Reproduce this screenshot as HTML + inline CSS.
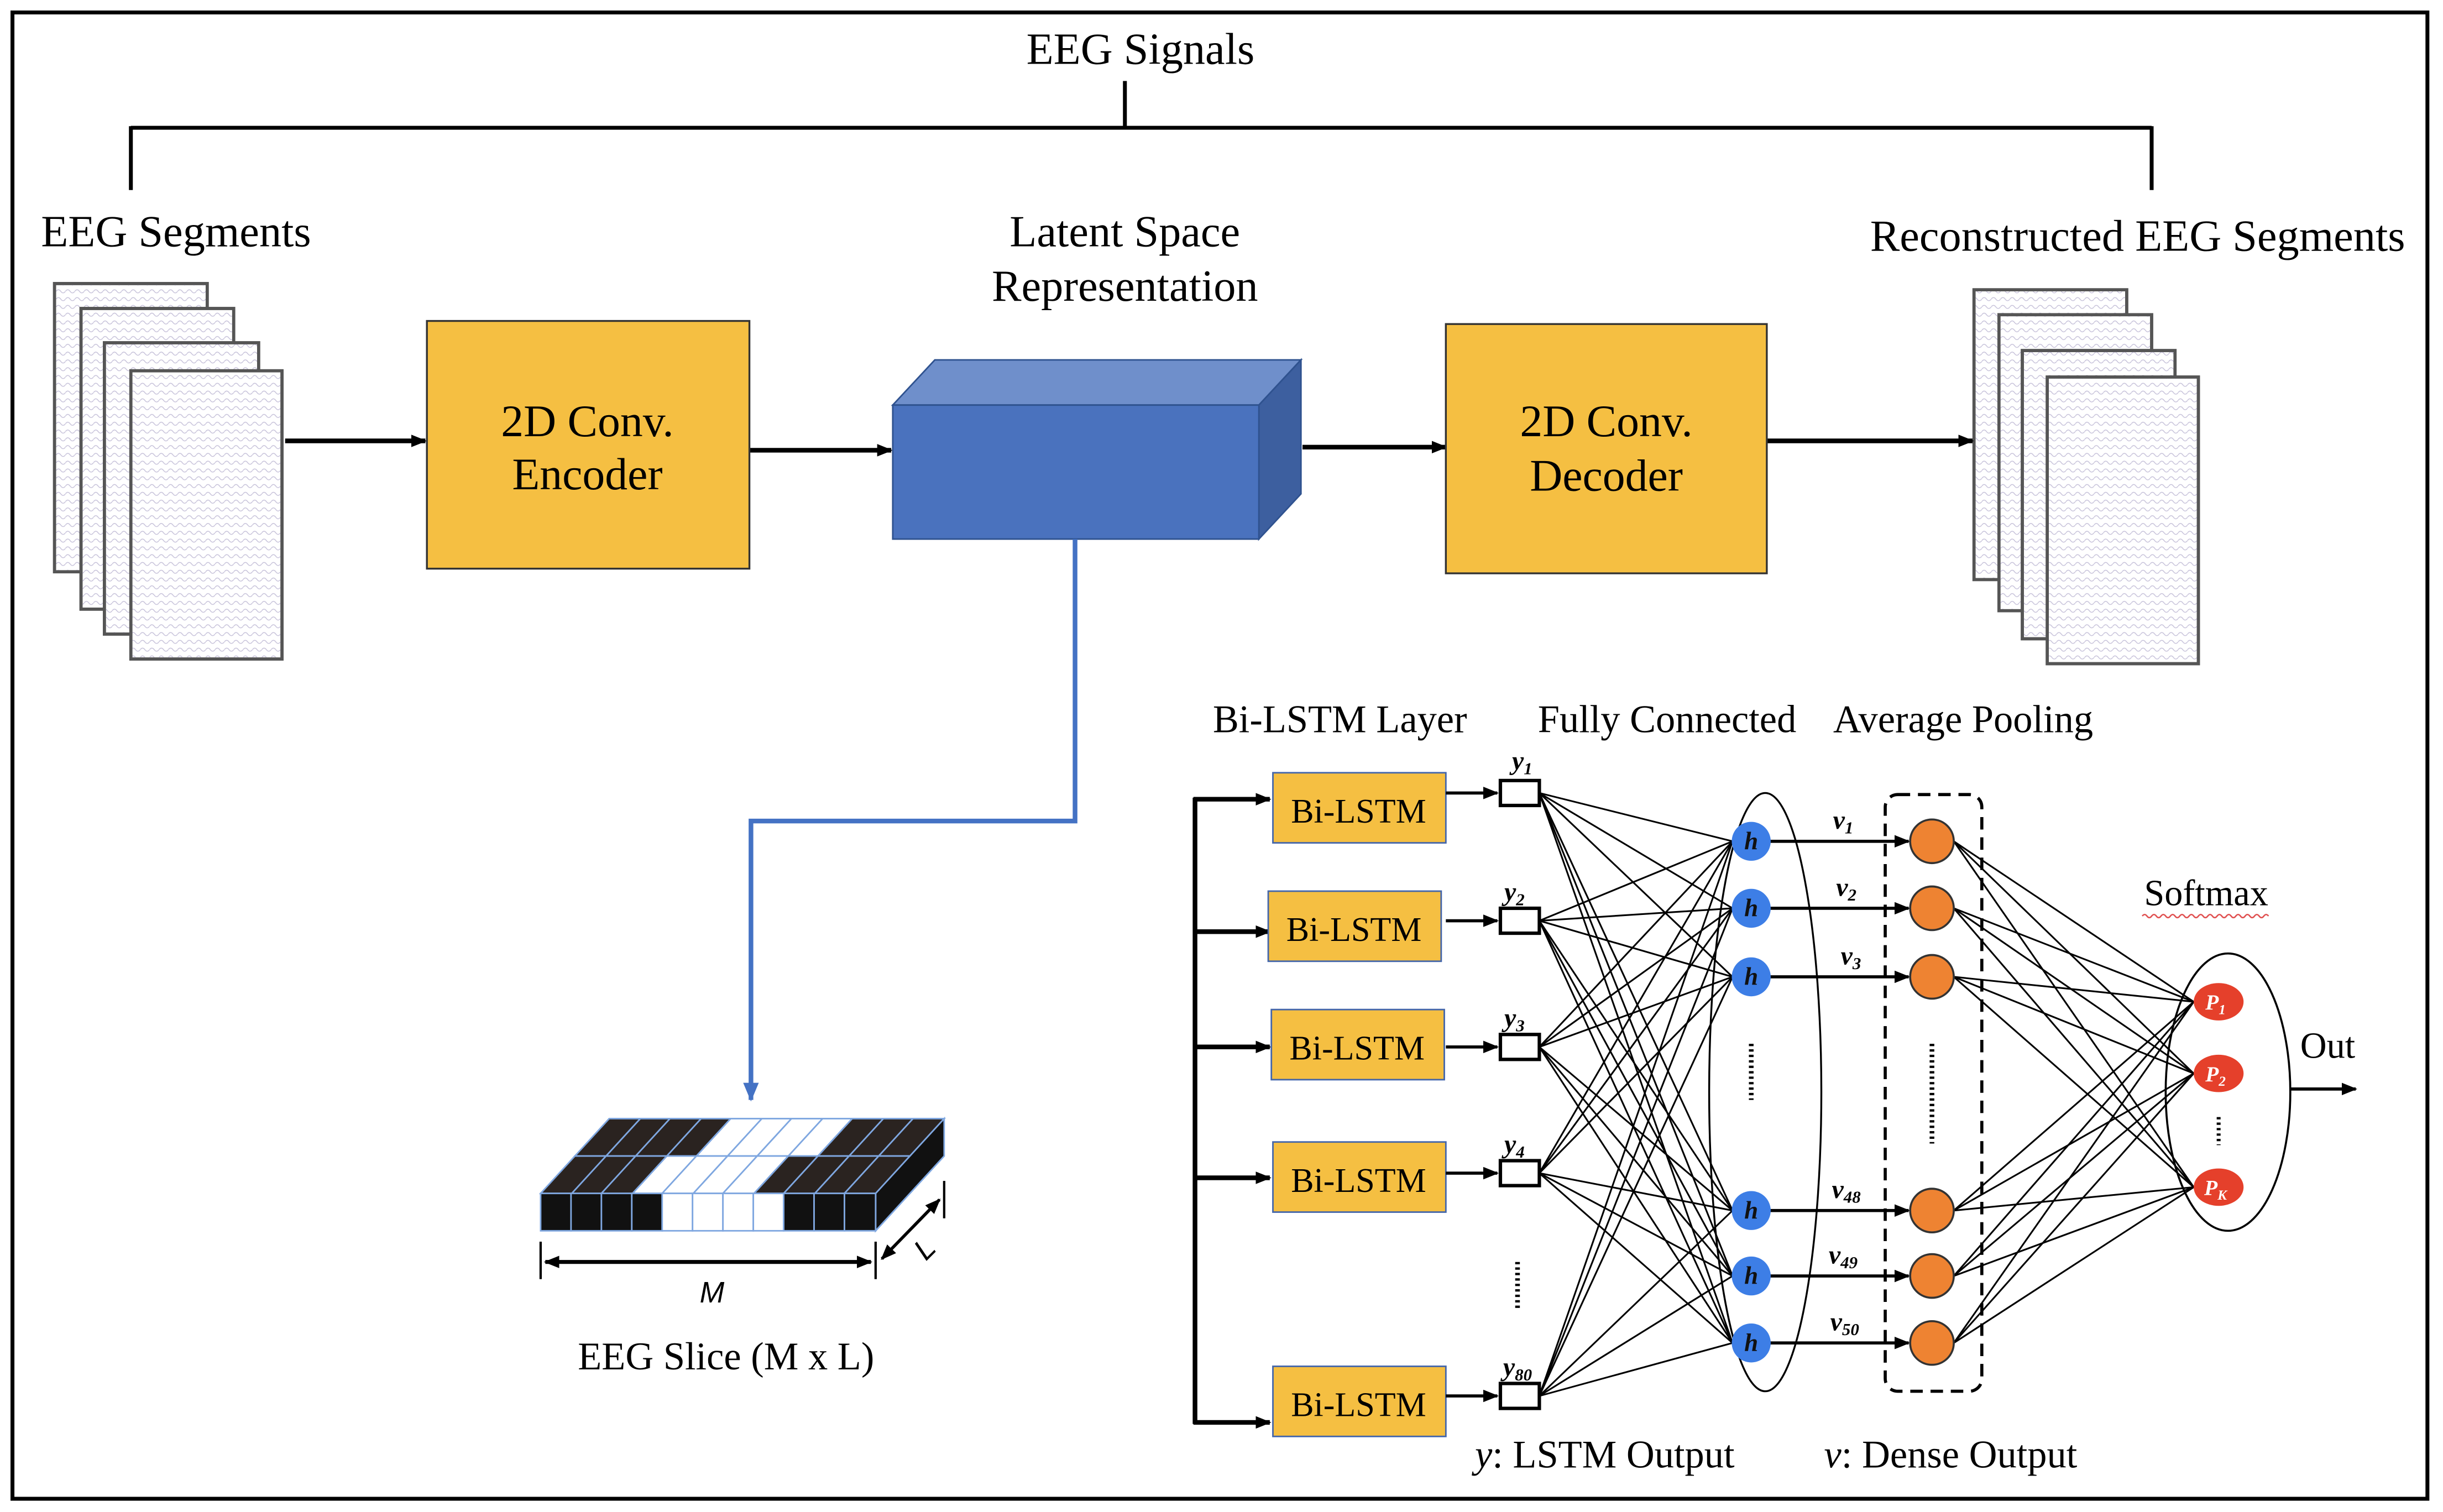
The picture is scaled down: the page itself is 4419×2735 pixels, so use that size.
<!DOCTYPE html>
<html><head><meta charset="utf-8"><style>
html,body{margin:0;padding:0;background:#fff}
svg{display:block}
text{font-family:"Liberation Serif",serif}
</style></head><body>
<svg width="4419" height="2735" viewBox="0 0 1568 970.5" preserveAspectRatio="none" xmlns="http://www.w3.org/2000/svg">
<defs>
<marker id="as" markerWidth="10" markerHeight="8" refX="9" refY="4" orient="auto" markerUnits="userSpaceOnUse"><path d="M0,0 L10,4 L0,8 z" fill="#000"/></marker>
<marker id="ab" markerWidth="12" markerHeight="10" refX="11" refY="5" orient="auto" markerUnits="userSpaceOnUse"><path d="M0,0 L12,5 L0,10 z" fill="#4472C4"/></marker>
<marker id="dm" markerWidth="10" markerHeight="10" refX="9" refY="5" orient="auto-start-reverse" markerUnits="userSpaceOnUse"><path d="M0,1 L10,5 L0,9 z" fill="#000"/></marker>
<pattern id="eeg" width="6" height="5" patternUnits="userSpaceOnUse"><path d="M0,2 Q1.5,0 3,2 T6,2" stroke="#c4bfd8" stroke-width="0.5" fill="none"/></pattern>
</defs>
<rect x="8" y="8" width="1550" height="954" fill="#fff" stroke="#000" stroke-width="2.5"/>

<text x="732" y="41" font-size="28.5" text-anchor="middle">EEG Signals</text>
<path d="M722,52 V82 M84,82 H1381 M84,81 V122 M1381,81 V122" stroke="#000" stroke-width="2.5" fill="none"/>
<text x="113" y="158" font-size="28.5" text-anchor="middle">EEG Segments</text>
<text x="722" y="158" font-size="28.5" text-anchor="middle">Latent Space</text>
<text x="722" y="193" font-size="28.5" text-anchor="middle">Representation</text>
<text x="1372" y="161" font-size="28.5" text-anchor="middle">Reconstructed EEG Segments</text>

<g stroke="#555" stroke-width="2">
<rect x="35" y="182" width="98" height="185" fill="#fff"/><rect x="35" y="182" width="98" height="185" fill="url(#eeg)"/>
<rect x="52" y="198" width="98" height="193" fill="#fff"/><rect x="52" y="198" width="98" height="193" fill="url(#eeg)"/>
<rect x="67" y="220" width="99" height="187" fill="#fff"/><rect x="67" y="220" width="99" height="187" fill="url(#eeg)"/>
<rect x="84" y="238" width="97" height="185" fill="#fff"/><rect x="84" y="238" width="97" height="185" fill="url(#eeg)"/>
</g>
<g stroke="#555" stroke-width="2">
<rect x="1267" y="186" width="98" height="186" fill="#fff"/><rect x="1267" y="186" width="98" height="186" fill="url(#eeg)"/>
<rect x="1283" y="202" width="98" height="190" fill="#fff"/><rect x="1283" y="202" width="98" height="190" fill="url(#eeg)"/>
<rect x="1298" y="225" width="98" height="185" fill="#fff"/><rect x="1298" y="225" width="98" height="185" fill="url(#eeg)"/>
<rect x="1314" y="242" width="97" height="184" fill="#fff"/><rect x="1314" y="242" width="97" height="184" fill="url(#eeg)"/>
</g>

<g stroke="#000" stroke-width="3" fill="none">
<line x1="183" y1="283" x2="273" y2="283" marker-end="url(#as)"/>
<line x1="481" y1="289" x2="572" y2="289" marker-end="url(#as)"/>
<line x1="836" y1="287" x2="928" y2="287" marker-end="url(#as)"/>
<line x1="1134" y1="283" x2="1266" y2="283" marker-end="url(#as)"/>
</g>
<rect x="274" y="206" width="207" height="159" fill="#F5BF42" stroke="#333" stroke-width="1.2"/>
<text x="377" y="280" font-size="29" text-anchor="middle">2D Conv.</text>
<text x="377" y="314" font-size="29" text-anchor="middle">Encoder</text>
<rect x="928" y="208" width="206" height="160" fill="#F5BF42" stroke="#333" stroke-width="1.2"/>
<text x="1031" y="280" font-size="29" text-anchor="middle">2D Conv.</text>
<text x="1031" y="315" font-size="29" text-anchor="middle">Decoder</text>

<g stroke="#2F528F" stroke-width="1">
<polygon points="573,260 600,231 835,231 808,260" fill="#6F8FCB"/>
<polygon points="808,260 835,231 835,317 808,346" fill="#3D5F9F"/>
<rect x="573" y="260" width="235" height="86" fill="#4A72BE"/>
</g>
<path d="M690,346 V527 H482 V706" stroke="#4472C4" stroke-width="3" fill="none" marker-end="url(#ab)"/>

<g stroke="#7FA7E0" stroke-width="1">
<polygon points="562,766 606,718 606,742 562,790" fill="#111"/>
<polygon points="369,742 391,718 411,718 389,742" fill="#2a2320"/>
<polygon points="389,742 411,718 430,718 408,742" fill="#2a2320"/>
<polygon points="408,742 430,718 450,718 428,742" fill="#2a2320"/>
<polygon points="428,742 450,718 469,718 447,742" fill="#2a2320"/>
<polygon points="447,742 469,718 489,718 467,742" fill="#fff"/>
<polygon points="467,742 489,718 508,718 486,742" fill="#fff"/>
<polygon points="486,742 508,718 528,718 506,742" fill="#fff"/>
<polygon points="506,742 528,718 547,718 525,742" fill="#fff"/>
<polygon points="525,742 547,718 567,718 545,742" fill="#2a2320"/>
<polygon points="545,742 567,718 586,718 564,742" fill="#2a2320"/>
<polygon points="564,742 586,718 606,718 584,742" fill="#2a2320"/>
<polygon points="347,766 369,742 389,742 367,766" fill="#2a2320"/>
<polygon points="367,766 389,742 408,742 386,766" fill="#2a2320"/>
<polygon points="386,766 408,742 428,742 406,766" fill="#2a2320"/>
<polygon points="406,766 428,742 447,742 425,766" fill="#fff"/>
<polygon points="425,766 447,742 467,742 445,766" fill="#fff"/>
<polygon points="445,766 467,742 486,742 464,766" fill="#fff"/>
<polygon points="464,766 486,742 506,742 484,766" fill="#fff"/>
<polygon points="484,766 506,742 525,742 503,766" fill="#2a2320"/>
<polygon points="503,766 525,742 545,742 523,766" fill="#2a2320"/>
<polygon points="523,766 545,742 564,742 542,766" fill="#2a2320"/>
<polygon points="542,766 564,742 584,742 562,766" fill="#2a2320"/>
<rect x="347" y="766" width="19.5" height="24" fill="#111"/>
<rect x="366.5" y="766" width="19.5" height="24" fill="#111"/>
<rect x="386" y="766" width="19.5" height="24" fill="#111"/>
<rect x="405.5" y="766" width="19.5" height="24" fill="#111"/>
<rect x="425" y="766" width="19.5" height="24" fill="#fff"/>
<rect x="444.5" y="766" width="19.5" height="24" fill="#fff"/>
<rect x="464" y="766" width="19.5" height="24" fill="#fff"/>
<rect x="483.5" y="766" width="19.5" height="24" fill="#fff"/>
<rect x="503" y="766" width="19.5" height="24" fill="#111"/>
<rect x="522.5" y="766" width="19.5" height="24" fill="#111"/>
<rect x="542" y="766" width="20" height="24" fill="#111"/>
</g>
<g stroke="#000" stroke-width="1.5">
<line x1="347" y1="797" x2="347" y2="821"/>
<line x1="562" y1="797" x2="562" y2="821"/>
<line x1="350" y1="810" x2="559" y2="810" stroke-width="2.5" marker-start="url(#dm)" marker-end="url(#dm)"/>
<line x1="606" y1="758" x2="606" y2="782"/>
<line x1="566" y1="808" x2="603" y2="770" stroke-width="2" marker-start="url(#dm)" marker-end="url(#dm)"/>
</g>
<text x="457" y="836" font-size="19" font-style="italic" text-anchor="middle" style="font-family:'Liberation Sans',sans-serif">M</text>
<text x="0" y="0" font-size="19" font-style="italic" text-anchor="middle" transform="translate(598,806) rotate(-45)" style="font-family:'Liberation Sans',sans-serif">L</text>
<text x="466" y="879" font-size="25" text-anchor="middle">EEG Slice (M x L)</text>

<text x="860" y="470" font-size="25" text-anchor="middle">Bi-LSTM Layer</text>
<text x="1070" y="470" font-size="25" text-anchor="middle">Fully Connected</text>
<text x="1260" y="470" font-size="25" text-anchor="middle">Average Pooling</text>

<g stroke="#000" stroke-width="3" fill="none">
<line x1="767" y1="512" x2="767" y2="914"/>
<line x1="766" y1="513" x2="815" y2="513" marker-end="url(#as)"/>
<line x1="766" y1="598" x2="815" y2="598" marker-end="url(#as)"/>
<line x1="766" y1="672" x2="815" y2="672" marker-end="url(#as)"/>
<line x1="766" y1="756" x2="815" y2="756" marker-end="url(#as)"/>
<line x1="766" y1="913" x2="815" y2="913" marker-end="url(#as)"/>
</g>
<g fill="#F5BF42" stroke="#4466aa" stroke-width="1">
<rect x="817" y="496" width="111" height="45"/>
<rect x="814" y="572" width="111" height="45"/>
<rect x="816" y="648" width="111" height="45"/>
<rect x="817" y="733" width="111" height="45"/>
<rect x="817" y="877" width="111" height="45"/>
</g>
<g font-size="22" text-anchor="middle">
<text x="872" y="528">Bi-LSTM</text>
<text x="869" y="604">Bi-LSTM</text>
<text x="871" y="680">Bi-LSTM</text>
<text x="872" y="765">Bi-LSTM</text>
<text x="872" y="909">Bi-LSTM</text>
</g>
<g stroke="#000" stroke-width="2" fill="none">
<line x1="928" y1="509" x2="961" y2="509" marker-end="url(#as)"/>
<line x1="928" y1="591" x2="961" y2="591" marker-end="url(#as)"/>
<line x1="928" y1="672" x2="961" y2="672" marker-end="url(#as)"/>
<line x1="928" y1="753" x2="961" y2="753" marker-end="url(#as)"/>
<line x1="928" y1="896" x2="961" y2="896" marker-end="url(#as)"/>
</g>
<g stroke="#000" stroke-width="1.1">
<line x1="988" y1="509" x2="1112" y2="540"/><line x1="988" y1="509" x2="1112" y2="583"/><line x1="988" y1="509" x2="1112" y2="627"/><line x1="988" y1="509" x2="1112" y2="777"/><line x1="988" y1="509" x2="1112" y2="819"/><line x1="988" y1="509" x2="1112" y2="862"/>
<line x1="988" y1="591" x2="1112" y2="540"/><line x1="988" y1="591" x2="1112" y2="583"/><line x1="988" y1="591" x2="1112" y2="627"/><line x1="988" y1="591" x2="1112" y2="777"/><line x1="988" y1="591" x2="1112" y2="819"/><line x1="988" y1="591" x2="1112" y2="862"/>
<line x1="988" y1="672" x2="1112" y2="540"/><line x1="988" y1="672" x2="1112" y2="583"/><line x1="988" y1="672" x2="1112" y2="627"/><line x1="988" y1="672" x2="1112" y2="777"/><line x1="988" y1="672" x2="1112" y2="819"/><line x1="988" y1="672" x2="1112" y2="862"/>
<line x1="988" y1="753" x2="1112" y2="540"/><line x1="988" y1="753" x2="1112" y2="583"/><line x1="988" y1="753" x2="1112" y2="627"/><line x1="988" y1="753" x2="1112" y2="777"/><line x1="988" y1="753" x2="1112" y2="819"/><line x1="988" y1="753" x2="1112" y2="862"/>
<line x1="988" y1="896" x2="1112" y2="540"/><line x1="988" y1="896" x2="1112" y2="583"/><line x1="988" y1="896" x2="1112" y2="627"/><line x1="988" y1="896" x2="1112" y2="777"/><line x1="988" y1="896" x2="1112" y2="819"/><line x1="988" y1="896" x2="1112" y2="862"/>
</g>
<g fill="#fff" stroke="#000" stroke-width="2.2">
<rect x="963" y="501" width="25" height="16"/>
<rect x="963" y="583" width="25" height="16"/>
<rect x="963" y="664" width="25" height="16"/>
<rect x="963" y="745" width="25" height="16"/>
<rect x="963" y="888" width="25" height="16"/>
</g>
<g font-size="17" font-style="italic" font-weight="bold" text-anchor="middle">
<text x="977" y="494">y<tspan font-size="11" dy="3">1</tspan></text>
<text x="972" y="578">y<tspan font-size="11" dy="3">2</tspan></text>
<text x="972" y="659">y<tspan font-size="11" dy="3">3</tspan></text>
<text x="972" y="740">y<tspan font-size="11" dy="3">4</tspan></text>
<text x="974" y="883">y<tspan font-size="11" dy="3">80</tspan></text>
</g>
<line x1="974" y1="810" x2="974" y2="840" stroke="#000" stroke-width="3" stroke-dasharray="1.5,2"/>

<ellipse cx="1133" cy="701" rx="36" ry="192" fill="none" stroke="#000" stroke-width="1.2"/>
<g stroke="#000" stroke-width="2" fill="none">
<line x1="1136" y1="540" x2="1225" y2="540" marker-end="url(#as)"/>
<line x1="1136" y1="583" x2="1225" y2="583" marker-end="url(#as)"/>
<line x1="1136" y1="627" x2="1225" y2="627" marker-end="url(#as)"/>
<line x1="1136" y1="777" x2="1225" y2="777" marker-end="url(#as)"/>
<line x1="1136" y1="819" x2="1225" y2="819" marker-end="url(#as)"/>
<line x1="1136" y1="862" x2="1225" y2="862" marker-end="url(#as)"/>
</g>
<g fill="#3D7EE6">
<circle cx="1124" cy="540" r="12.5"/><circle cx="1124" cy="583" r="12.5"/><circle cx="1124" cy="627" r="12.5"/>
<circle cx="1124" cy="777" r="12.5"/><circle cx="1124" cy="819" r="12.5"/><circle cx="1124" cy="862" r="12.5"/>
</g>
<g font-size="16" font-style="italic" font-weight="bold" text-anchor="middle" fill="#111">
<text x="1124" y="545">h</text><text x="1124" y="588">h</text><text x="1124" y="632">h</text>
<text x="1124" y="782">h</text><text x="1124" y="824">h</text><text x="1124" y="867">h</text>
</g>
<line x1="1124" y1="670" x2="1124" y2="706" stroke="#000" stroke-width="3" stroke-dasharray="1.5,2"/>
<g font-size="17" font-style="italic" font-weight="bold" text-anchor="middle">
<text x="1183" y="532">v<tspan font-size="11" dy="3">1</tspan></text>
<text x="1185" y="575">v<tspan font-size="11" dy="3">2</tspan></text>
<text x="1188" y="619">v<tspan font-size="11" dy="3">3</tspan></text>
<text x="1185" y="769">v<tspan font-size="11" dy="3">48</tspan></text>
<text x="1183" y="811">v<tspan font-size="11" dy="3">49</tspan></text>
<text x="1184" y="854">v<tspan font-size="11" dy="3">50</tspan></text>
</g>

<rect x="1210" y="510" width="62" height="383" rx="8" fill="none" stroke="#000" stroke-width="2" stroke-dasharray="8,5"/>
<g stroke="#000" stroke-width="1.1">
<line x1="1254" y1="540" x2="1408" y2="643"/><line x1="1254" y1="540" x2="1408" y2="689"/><line x1="1254" y1="540" x2="1408" y2="762"/>
<line x1="1254" y1="583" x2="1408" y2="643"/><line x1="1254" y1="583" x2="1408" y2="689"/><line x1="1254" y1="583" x2="1408" y2="762"/>
<line x1="1254" y1="627" x2="1408" y2="643"/><line x1="1254" y1="627" x2="1408" y2="689"/><line x1="1254" y1="627" x2="1408" y2="762"/>
<line x1="1254" y1="777" x2="1408" y2="643"/><line x1="1254" y1="777" x2="1408" y2="689"/><line x1="1254" y1="777" x2="1408" y2="762"/>
<line x1="1254" y1="819" x2="1408" y2="643"/><line x1="1254" y1="819" x2="1408" y2="689"/><line x1="1254" y1="819" x2="1408" y2="762"/>
<line x1="1254" y1="862" x2="1408" y2="643"/><line x1="1254" y1="862" x2="1408" y2="689"/><line x1="1254" y1="862" x2="1408" y2="762"/>
</g>
<g fill="#EE8332" stroke="#333" stroke-width="1.3">
<circle cx="1240" cy="540" r="14"/><circle cx="1240" cy="583" r="14"/><circle cx="1240" cy="627" r="14"/>
<circle cx="1240" cy="777" r="14"/><circle cx="1240" cy="819" r="14"/><circle cx="1240" cy="862" r="14"/>
</g>
<line x1="1240" y1="670" x2="1240" y2="734" stroke="#000" stroke-width="3" stroke-dasharray="1.5,2"/>

<text x="1416" y="581" font-size="23.5" text-anchor="middle">Softmax</text>
<path d="M1375,588 q1.5,-2 3,0 t3,0 t3,0 t3,0 t3,0 t3,0 t3,0 t3,0 t3,0 t3,0 t3,0 t3,0 t3,0 t3,0 t3,0 t3,0 t3,0 t3,0 t3,0 t3,0 t3,0 t3,0 t3,0 t3,0 t3,0 t3,0 t3,0" stroke="#e05050" stroke-width="0.9" fill="none"/>
<ellipse cx="1430" cy="701" rx="40" ry="89" fill="none" stroke="#000" stroke-width="1.3"/>
<g fill="#E5402B">
<ellipse cx="1424" cy="643" rx="16" ry="12"/>
<ellipse cx="1424" cy="689" rx="16" ry="12"/>
<ellipse cx="1424" cy="762" rx="16" ry="12"/>
</g>
<g fill="#fff" font-size="14" font-style="italic" font-weight="bold" text-anchor="middle" style="font-family:'Liberation Sans',sans-serif">
<text x="1422" y="648">P<tspan font-size="9" dy="3">1</tspan></text>
<text x="1422" y="694">P<tspan font-size="9" dy="3">2</tspan></text>
<text x="1422" y="767">P<tspan font-size="9" dy="3">K</tspan></text>
</g>
<line x1="1424" y1="717" x2="1424" y2="735" stroke="#000" stroke-width="2.5" stroke-dasharray="1.5,2"/>
<text x="1494" y="679" font-size="23.5" text-anchor="middle">Out</text>
<line x1="1470" y1="699" x2="1512" y2="699" stroke="#000" stroke-width="2" marker-end="url(#as)"/>

<text x="1030" y="942" font-size="25" text-anchor="middle"><tspan font-style="italic">y</tspan>: LSTM Output</text>
<text x="1252" y="942" font-size="25" text-anchor="middle"><tspan font-style="italic">v</tspan>: Dense Output</text>
</svg>
</body></html>
